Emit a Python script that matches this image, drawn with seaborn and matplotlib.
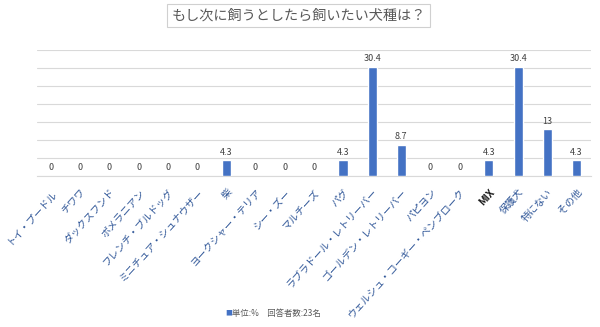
import matplotlib
matplotlib.use("Agg")
import matplotlib.pyplot as plt
import seaborn as sns
import pandas as pd

breeds = ["トイ・プードル", "チワワ", "ダックスフンド", "ポメラニアン", "フレンチ・ブルドッグ",
          "ミニチュア・シュナウザー", "柴", "ヨークシャー・テリア", "シー・ズー", "マルチーズ",
          "パグ", "ラブラドール・レトリーバー", "ゴールデン・レトリーバー", "パピヨン",
          "ウェルシュ・コーギー・ペンブローク", "MIX", "保護犬", "特にない", "その他"]
values = [0, 0, 0, 0, 0, 0, 4.3, 0, 0, 0, 4.3, 30.4, 8.7, 0, 0, 4.3, 30.4, 13, 4.3]
value_labels = ["0", "0", "0", "0", "0", "0", "4.3", "0", "0", "0", "4.3", "30.4", "8.7",
                "0", "0", "4.3", "30.4", "13", "4.3"]
title = "もし次に飼うとしたら飼いたい犬種は？"
legend_text = "単位:%　回答者数:23名"

sns.set_theme(style="white")
plt.rcParams['font.family'] = ['Noto Sans CJK JP', 'DejaVu Sans']

df = pd.DataFrame({"breed": breeds, "value": values})

fig = plt.figure(figsize=(6, 3.27), dpi=100)
ax = fig.add_axes([0.061, 0.462, 0.924, 0.385])
bar_color = "#4472C4"
sns.barplot(data=df, x="breed", y="value", color=bar_color, width=0.31,
            saturation=1, ax=ax, zorder=3)

ax.set_ylim(0, 35)
ax.set_xlim(-0.5, len(breeds) - 0.5)
ax.set_yticks([0, 5, 10, 15, 20, 25, 30, 35])
ax.set_yticklabels([])
ax.tick_params(axis="y", length=0)
ax.yaxis.grid(True, color="#D9D9D9", linewidth=0.8, zorder=0)
ax.set_axisbelow(True)
for s in ["top", "right", "left"]:
    ax.spines[s].set_visible(False)
ax.spines["bottom"].set_color("#D9D9D9")
ax.spines["bottom"].set_linewidth(0.8)
ax.set_xlabel("")
ax.set_ylabel("")

# data labels
for i, (v, lab) in enumerate(zip(values, value_labels)):
    ax.annotate(lab, (i, v), xytext=(0, 2.5), textcoords="offset points",
                ha="center", va="bottom", fontsize=6.5, color="#404040")

# x tick labels
ax.set_xticks(range(len(breeds)))
ax.set_xticklabels(breeds, rotation=48, ha="right", rotation_mode="anchor",
                   fontsize=7.2)
ax.tick_params(axis="x", length=0, pad=8)
for t in ax.get_xticklabels():
    if t.get_text() == "MIX":
        t.set_color("#1a1a1a")
        t.set_fontweight("bold")
    else:
        t.set_color("#2E5597")

# title with box
fig.text(0.498, 0.952, title, ha="center", va="center", fontsize=10.2, color="#595959",
         bbox=dict(boxstyle="square,pad=0.3", facecolor="white", edgecolor="#D0D0D0",
                   linewidth=0.8))

# legend
fig.text(0.375, 0.04, "■", ha="left", va="center", fontsize=5, color=bar_color)
fig.text(0.386, 0.04, legend_text, ha="left", va="center", fontsize=6, color="#595959")

fig.savefig("out.png", dpi=100)
